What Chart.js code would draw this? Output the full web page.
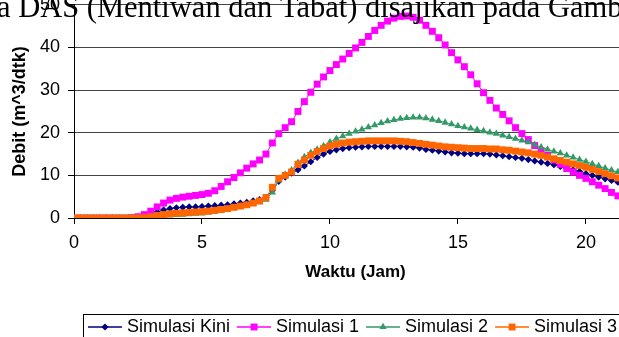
<!DOCTYPE html>
<html>
<head>
<meta charset="utf-8">
<script src="https://cdn.jsdelivr.net/npm/chart.js@4"></script>
<style>
html, body { margin: 0; padding: 0; background: #fff; overflow: hidden; width: 619px; height: 337px; }
</style>
</head>
<body>
<canvas id="grafik" width="642" height="337"></canvas>
<script>
// waktu (jam), tiap 0.25 jam
const waktu = [
    0, 0.25, 0.5, 0.75, 1, 1.25, 1.5, 1.75, 2, 2.25,
    2.5, 2.75, 3, 3.25, 3.5, 3.75, 4, 4.25, 4.5, 4.75,
    5, 5.25, 5.5, 5.75, 6, 6.25, 6.5, 6.75, 7, 7.25,
    7.5, 7.75, 8, 8.25, 8.5, 8.75, 9, 9.25, 9.5, 9.75,
    10, 10.25, 10.5, 10.75, 11, 11.25, 11.5, 11.75, 12, 12.25,
    12.5, 12.75, 13, 13.25, 13.5, 13.75, 14, 14.25, 14.5, 14.75,
    15, 15.25, 15.5, 15.75, 16, 16.25, 16.5, 16.75, 17, 17.25,
    17.5, 17.75, 18, 18.25, 18.5, 18.75, 19, 19.25, 19.5, 19.75,
    20, 20.25, 20.5, 20.75, 21, 21.25,
];

// debit (m^3/dtk) tiap simulasi
const simulasiKini = [
    0, 0, 0, 0, 0, 0, 0, 0, 0, 0,
    0.1, 0.3, 0.8, 1.4, 1.9, 2.2, 2.4, 2.5, 2.6, 2.6,
    2.7, 2.8, 2.9, 3.0, 3.1, 3.3, 3.5, 3.7, 4.0, 4.3,
    4.8, 6.5, 8.6, 9.6, 10.5, 11.3, 12.2, 13.2, 14.2, 15.0,
    15.6, 16.0, 16.3, 16.5, 16.6, 16.7, 16.8, 16.8, 16.8, 16.8,
    16.8, 16.8, 16.7, 16.6, 16.4, 16.1, 15.9, 15.7, 15.5, 15.3,
    15.2, 15.1, 15.1, 15.1, 15.1, 15.0, 14.8, 14.6, 14.4, 14.2,
    14.0, 13.7, 13.4, 13.1, 12.8, 12.5, 12.1, 11.7, 11.3, 10.9,
    10.4, 10.0, 9.6, 9.2, 8.8, 8.4,
];
const simulasi1 = [
    0, 0, 0, 0, 0, 0, 0, 0, 0, 0.1,
    0.3, 0.8, 1.6, 2.6, 3.5, 4.2, 4.6, 4.9, 5.1, 5.3,
    5.5, 5.8, 6.4, 7.4, 8.5, 9.5, 10.6, 11.7, 12.7, 13.6,
    15.0, 17.6, 19.8, 21.2, 22.6, 25.0, 27.3, 29.5, 31.4, 33.1,
    34.6, 36.0, 37.3, 38.6, 39.9, 41.2, 42.6, 44.0, 45.2, 46.2,
    46.9, 47.3, 47.4, 47.1, 46.4, 45.2, 43.8, 42.3, 40.6, 38.8,
    37.1, 35.5, 33.6, 31.5, 29.4, 27.6, 25.8, 24.3, 22.8, 21.2,
    19.8, 18.4, 17.0, 15.8, 14.7, 13.6, 12.6, 11.6, 10.8, 10.0,
    9.3, 8.5, 7.7, 6.9, 6.0, 5.2,
];
const simulasi2 = [
    0, 0, 0, 0, 0, 0, 0, 0, 0, 0,
    0, 0, 0, 0.2, 0.4, 0.6, 0.7, 0.8, 0.9, 1.0,
    1.1, 1.3, 1.5, 1.8, 2.1, 2.4, 2.7, 3.0, 3.3, 3.7,
    4.3, 6.0, 8.8, 10.2, 11.2, 13.0, 14.3, 15.3, 16.1, 16.9,
    17.8, 18.6, 19.2, 19.8, 20.3, 20.8, 21.3, 21.8, 22.3, 22.7,
    23.0, 23.3, 23.5, 23.6, 23.6, 23.4, 23.1, 22.8, 22.4, 22.0,
    21.6, 21.3, 21.0, 20.7, 20.4, 20.1, 19.8, 19.4, 19.0, 18.6,
    18.2, 17.8, 17.2, 16.6, 16.1, 15.6, 15.2, 14.7, 14.2, 13.7,
    13.2, 12.7, 12.2, 11.7, 11.2, 10.8,
];
const simulasi3 = [
    0, 0, 0, 0, 0, 0, 0, 0, 0, 0,
    0, 0.1, 0.3, 0.6, 0.8, 1.0, 1.1, 1.2, 1.3, 1.4,
    1.5, 1.6, 1.8, 2.0, 2.2, 2.5, 2.8, 3.1, 3.5, 4.0,
    4.8, 7.2, 9.3, 10.0, 10.8, 12.6, 13.6, 14.7, 15.6, 16.3,
    16.9, 17.3, 17.6, 17.8, 17.9, 18.0, 18.1, 18.1, 18.1, 18.1,
    18.1, 18.0, 17.9, 17.7, 17.5, 17.3, 17.1, 16.9, 16.7, 16.6,
    16.5, 16.4, 16.3, 16.3, 16.3, 16.2, 16.2, 16.0, 15.9, 15.7,
    15.5, 15.3, 15.0, 14.7, 14.3, 13.9, 13.5, 13.1, 12.7, 12.3,
    11.9, 11.4, 10.9, 10.4, 9.9, 9.4,
];

const tickWaktu = [0, 5, 10, 15, 20];
const tickDebit = [0, 10, 20, 30, 40, 50];

const fontSans = '"Liberation Sans", Arial, sans-serif';

// gabungkan waktu dan debit jadi titik {x, y}
function titik(debit) {
    return waktu.map((t, i) => ({ x: t, y: debit[i] }));
}

// teks halaman dokumen yang terpotong di atas grafik
const teksHalaman = {
    id: "teksHalaman",
    afterDraw(chart) {
        const ctx = chart.ctx;
        ctx.save();
        ctx.fillStyle = "#000";
        ctx.font = '30.5px "Liberation Serif", "Times New Roman", serif';
        ctx.textBaseline = "alphabetic";
        ctx.fillText("a DAS (Mentiwan dan Tabat) disajikan pada Gambar", -3, 17);
        ctx.restore();
    },
};

// legenda dengan garis + penanda, dalam kotak
const legendaBawah = {
    id: "legendaBawah",
    afterDraw(chart) {
        const ctx = chart.ctx;
        ctx.save();
        ctx.strokeStyle = "#000";
        ctx.lineWidth = 1;
        ctx.strokeRect(83.5, 314.5, 600, 40);
        ctx.font = "18px " + fontSans;
        ctx.textBaseline = "middle";
        const y = 327;
        let x = 88;
        chart.data.datasets.forEach((ds) => {
            ctx.strokeStyle = ds.borderColor;
            ctx.lineWidth = 1.5;
            ctx.beginPath();
            ctx.moveTo(x, y);
            ctx.lineTo(x + 34, y);
            ctx.stroke();
            ctx.fillStyle = ds.pointBackgroundColor;
            Chart.helpers.drawPoint(
                ctx,
                { pointStyle: ds.pointStyle, radius: ds.pointRadius, borderWidth: 0, rotation: 0 },
                x + 17,
                y
            );
            ctx.fillStyle = "#000";
            ctx.fillText(ds.label, x + 39, y);
            x += 39 + ctx.measureText(ds.label).width + 7;
        });
        ctx.restore();
    },
};

function seri(label, debit, warna, gaya, radius, urutan) {
    return {
        label: label,
        data: titik(debit),
        borderColor: warna,
        backgroundColor: warna,
        pointBackgroundColor: warna,
        borderWidth: 1,
        pointStyle: gaya,
        pointRadius: radius,
        pointBorderWidth: 0,
        tension: 0,
        order: urutan,
    };
}

const grafik = new Chart(document.getElementById("grafik"), {
    type: "line",
    data: {
        datasets: [
            seri("Simulasi Kini", simulasiKini, "#000080", "rectRot", 3.6, 4),
            seri("Simulasi 1", simulasi1, "#FF00FF", "rect", 4.9, 3),
            seri("Simulasi 2", simulasi2, "#339966", "triangle", 4.2, 2),
            seri("Simulasi 3", simulasi3, "#FF6600", "rect", 4.9, 1),
        ],
    },
    options: {
        responsive: false,
        animation: false,
        devicePixelRatio: 1,
        layout: { padding: { left: 0, right: 0, top: 3, bottom: 37 } },
        plugins: {
            legend: { display: false },
            tooltip: { enabled: false },
        },
        scales: {
            x: {
                type: "linear",
                min: 0,
                max: 22,
                afterBuildTicks: (s) => {
                    s.ticks = tickWaktu.map((v) => ({ value: v }));
                },
                afterFit: (s) => {
                    s.height = 82;
                    s.paddingLeft = 0;
                    s.paddingRight = 0;
                },
                grid: { drawOnChartArea: false, drawTicks: true, tickLength: 6, tickColor: "#000" },
                border: { color: "#000", width: 1 },
                ticks: { color: "#000", font: { family: fontSans, size: 18 }, padding: 8, maxRotation: 0 },
                title: {
                    display: true,
                    text: "Waktu (Jam)",
                    color: "#000",
                    font: { family: fontSans, size: 17, weight: "bold" },
                    padding: { top: 0, bottom: 17 },
                },
            },
            y: {
                type: "linear",
                min: 0,
                max: 50,
                afterBuildTicks: (s) => {
                    s.ticks = tickDebit.map((v) => ({ value: v }));
                },
                afterFit: (s) => {
                    s.width = 74;
                    s.paddingTop = 0;
                    s.paddingBottom = 0;
                },
                grid: { color: "#444", tickColor: "#000", tickLength: 6 },
                border: { color: "#000", width: 1 },
                ticks: { color: "#000", font: { family: fontSans, size: 18 }, padding: 8 },
                title: {
                    display: true,
                    text: "Debit (m^3/dtk)",
                    color: "#000",
                    font: { family: fontSans, size: 18, weight: "bold" },
                    padding: { top: 9, bottom: 0 },
                },
            },
        },
    },
    plugins: [teksHalaman, legendaBawah],
});
</script>
</body>
</html>
